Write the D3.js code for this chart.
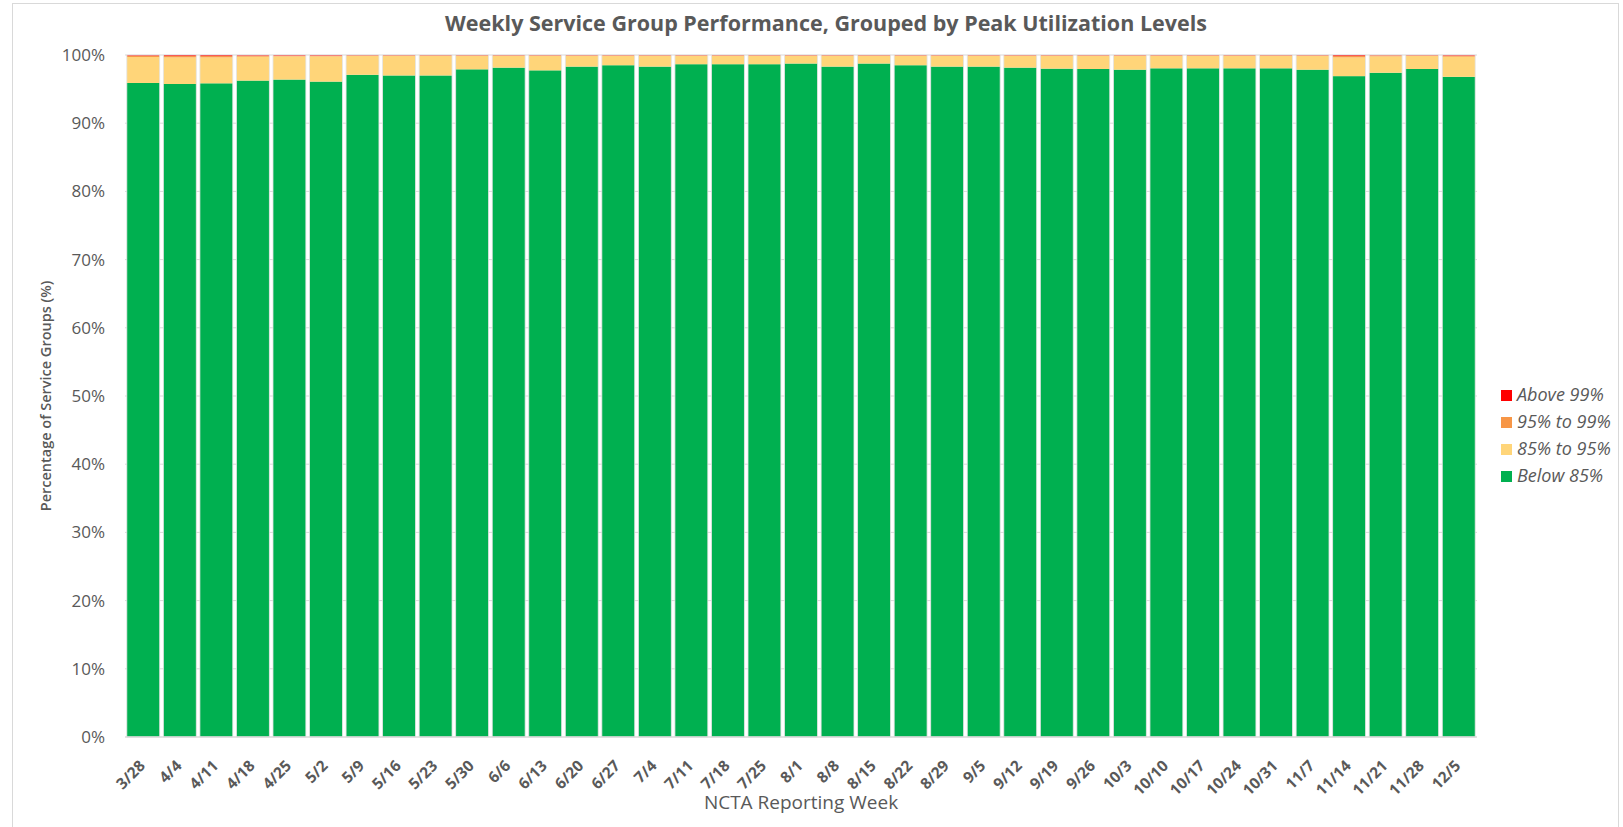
<!DOCTYPE html>
<html><head><meta charset="utf-8">
<script src="https://cdn.jsdelivr.net/npm/d3@7"></script>
<style>body{margin:0;background:#fff;} svg{display:block;}</style>
</head><body>
<svg id="chart" width="1623" height="827"></svg>
<script>
const weeks = ["3/28","4/4","4/11","4/18","4/25","5/2","5/9","5/16","5/23","5/30","6/6","6/13","6/20","6/27","7/4","7/11","7/18","7/25","8/1","8/8","8/15","8/22","8/29","9/5","9/12","9/19","9/26","10/3","10/10","10/17","10/24","10/31","11/7","11/14","11/21","11/28","12/5"];
const below85 = [95.9,95.75,95.85,96.25,96.4,96.1,97.1,97.0,97.0,97.9,98.15,97.75,98.3,98.5,98.3,98.65,98.65,98.65,98.75,98.3,98.75,98.5,98.3,98.3,98.15,98.0,97.95,97.85,98.05,98.05,98.05,98.05,97.85,96.9,97.4,97.95,96.8];
const from85to95 = [3.8,3.9,3.8,3.5,3.4,3.7,2.75,2.85,2.85,1.95,1.7,2.1,1.55,1.35,1.55,1.2,1.2,1.2,1.1,1.55,1.1,1.35,1.55,1.55,1.7,1.85,1.9,2.0,1.8,1.8,1.8,1.8,2.0,2.75,2.4,1.9,2.95];
const from95to99 = [0.2,0.2,0.2,0.15,0.1,0.1,0.1,0.1,0.1,0.1,0.1,0.1,0.1,0.1,0.1,0.1,0.1,0.1,0.1,0.1,0.1,0.1,0.1,0.1,0.1,0.1,0.1,0.1,0.1,0.1,0.1,0.1,0.1,0.2,0.15,0.1,0.15];
const above99 = weeks.map((w,i)=>Math.max(0, +(100 - below85[i] - from85to95[i] - from95to99[i]).toFixed(2)));
const seriesNames = ["Below 85%","85% to 95%","95% to 99%","Above 99%"];
const seriesColors = ["#00B050","#FFD579","#F79646","#FF0000"];
const yTicks = [0,10,20,30,40,50,60,70,80,90,100];

const rows = weeks.map((w,i)=>({week:w, "Below 85%":below85[i], "85% to 95%":from85to95[i], "95% to 99%":from95to99[i], "Above 99%":above99[i]}));
const stack = d3.stack().keys(seriesNames)(rows);

const svg = d3.select("#chart");
const font = "'Open Sans', 'Liberation Sans', sans-serif";
const grey = "#595959";
const m = {left:125, right:1477, top:55, bottom:737};

// chart frame
svg.append("rect").attr("x",12.5).attr("y",3.5).attr("width",1606).attr("height",830).attr("fill","none").attr("stroke","#d9d9d9");

const x = d3.scaleBand().domain(weeks).range([m.left,m.right]).paddingInner(0.1).paddingOuter(0.05);
const y = d3.scaleLinear().domain([0,100]).range([m.bottom,m.top]);

// gridlines
svg.append("g").selectAll("line").data(yTicks.slice(1)).join("line")
  .attr("x1",m.left).attr("x2",m.right).attr("y1",d=>y(d)).attr("y2",d=>y(d))
  .attr("stroke","#d9d9d9").attr("stroke-width",1);

// bars
svg.append("g").selectAll("g").data(stack).join("g")
  .attr("fill",(d,i)=>seriesColors[i])
  .selectAll("rect").data(d=>d).join("rect")
  .attr("x",d=>x(d.data.week)).attr("width",x.bandwidth())
  .attr("y",d=>y(d[1])).attr("height",d=>Math.max(0,y(d[0])-y(d[1])));

// thin light edges of bars
svg.append("g").selectAll("rect").data(weeks).join("rect")
  .attr("x",d=>x(d)).attr("width",x.bandwidth()).attr("y",y(100)).attr("height",y(0)-y(100))
  .attr("fill","none").attr("stroke","#e4e4e4").attr("stroke-width",0.8);

// baseline
svg.append("line").attr("x1",m.left).attr("x2",m.right).attr("y1",y(0)).attr("y2",y(0)).attr("stroke","#d9d9d9").attr("stroke-width",1.5);

// y axis
const yAxis = d3.axisLeft(y).tickValues(yTicks).tickFormat(d=>d+"%").tickSize(0).tickPadding(20);
const ya = svg.append("g").attr("transform",`translate(${m.left},0)`).call(yAxis);
ya.select(".domain").remove();
ya.selectAll("text").attr("font-family",font).attr("font-size",17).attr("fill",grey);

// x axis
const xAxis = d3.axisBottom(x).tickSize(0).tickPadding(0);
const xa = svg.append("g").attr("transform",`translate(0,${m.bottom})`).call(xAxis);
xa.select(".domain").remove();
xa.selectAll("text").attr("font-family",font).attr("font-size",15.5).attr("font-weight","bold").attr("fill",grey)
  .attr("x",0).attr("y",0)
  .attr("text-anchor","end").attr("dy","0.35em")
  .attr("transform","translate(-1,26) rotate(-45)");

// title
svg.append("text").attr("x",826).attr("y",31).attr("text-anchor","middle")
  .attr("font-family",font).attr("font-size",21.5).attr("font-weight","bold").attr("fill",grey)
  .text("Weekly Service Group Performance, Grouped by Peak Utilization Levels");

// axis titles
svg.append("text").attr("transform",`translate(51,${(m.top+m.bottom)/2}) rotate(-90)`).attr("text-anchor","middle")
  .attr("font-family",font).attr("font-size",14.5).attr("font-weight","600").attr("fill",grey)
  .text("Percentage of Service Groups (%)");
svg.append("text").attr("x",801).attr("y",809).attr("text-anchor","middle")
  .attr("font-family",font).attr("font-size",19).attr("fill",grey)
  .text("NCTA Reporting Week");

// legend
const legendOrder = ["Above 99%","95% to 99%","85% to 95%","Below 85%"];
const lg = svg.append("g").selectAll("g").data(legendOrder).join("g")
  .attr("transform",(d,i)=>`translate(1501,${395+i*27})`);
lg.append("rect").attr("x",0).attr("y",-5).attr("width",11).attr("height",11)
  .attr("fill",d=>seriesColors[seriesNames.indexOf(d)]);
lg.append("text").attr("x",16).attr("y",0).attr("dy","0.35em")
  .attr("font-family",font).attr("font-size",18).attr("font-style","italic").attr("fill",grey)
  .text(d=>d);
</script>
</body></html>
